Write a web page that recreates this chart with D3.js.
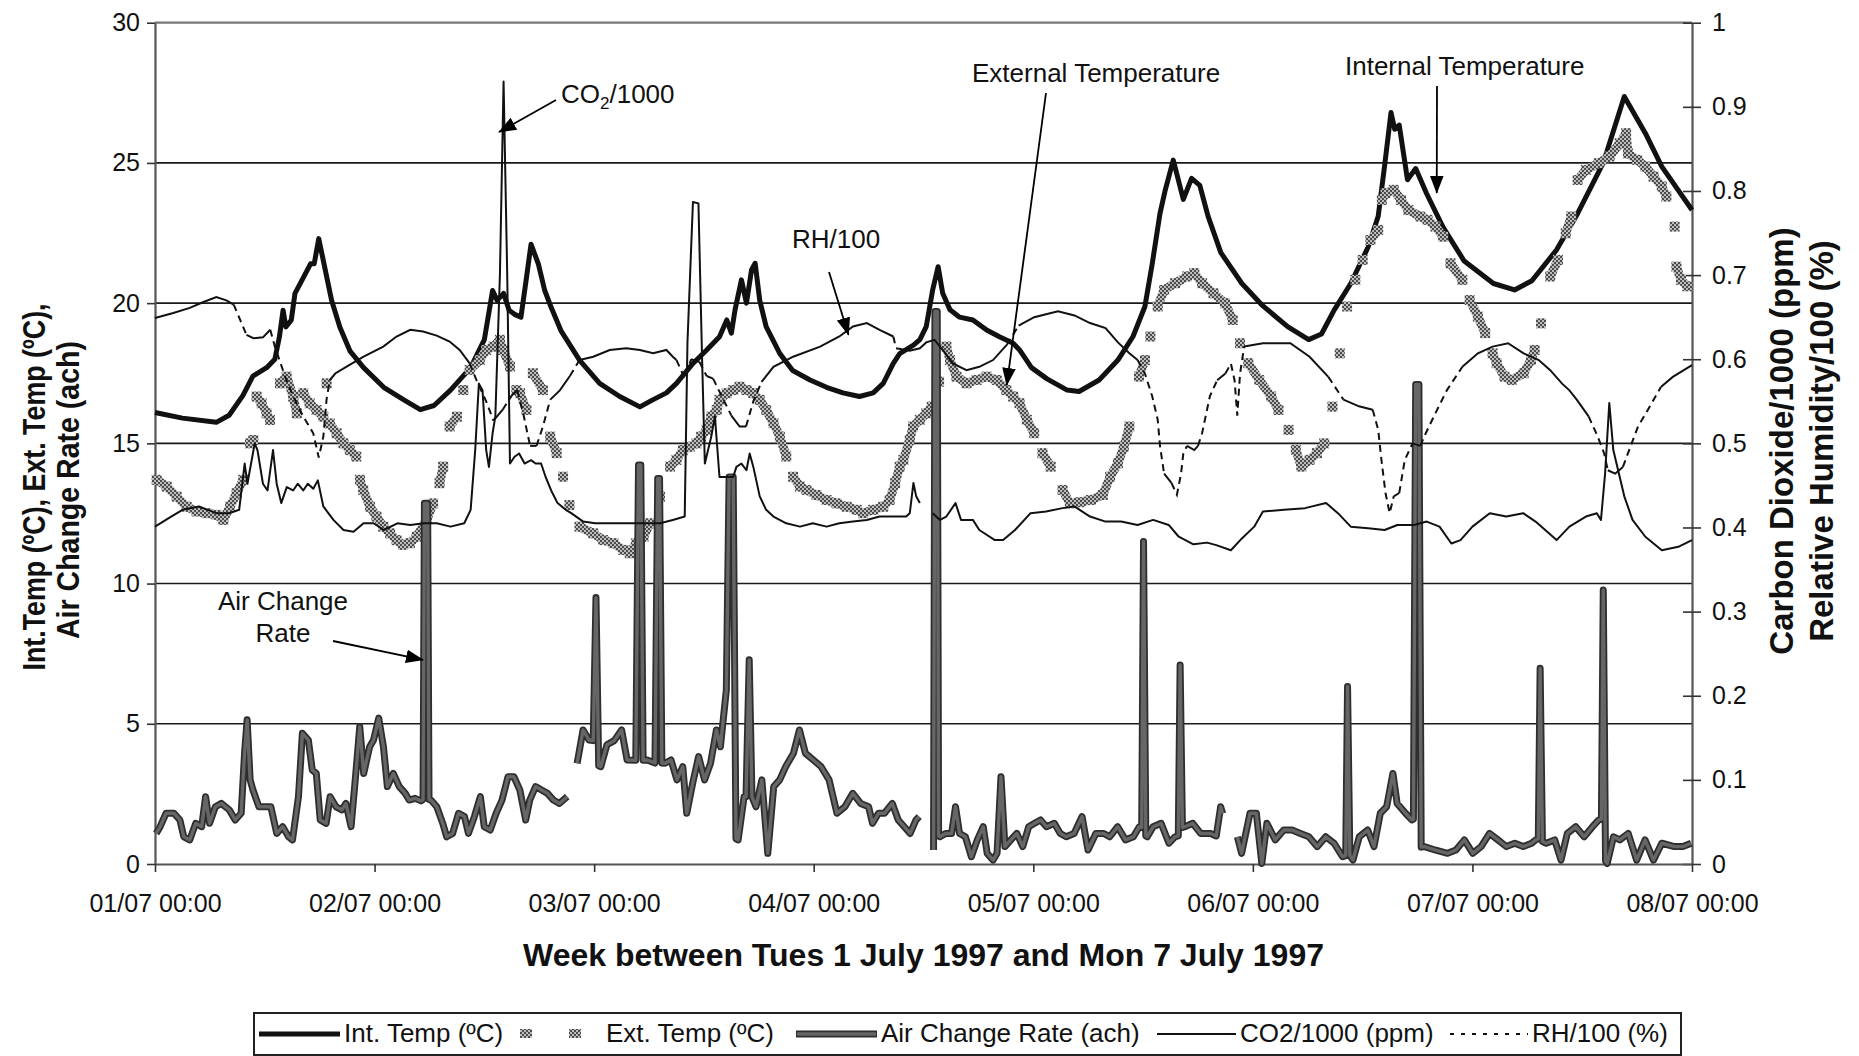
<!DOCTYPE html>
<html>
<head>
<meta charset="utf-8">
<script src="https://cdn.jsdelivr.net/npm/d3@7"></script>
<style>
  body { margin: 0; background: #fff; }
  svg { display: block; }
  text { font-family: "Liberation Sans", Arial, Helvetica, sans-serif; }
</style>
</head>
<body>
<svg id="chart" width="1859" height="1056"></svg>
<script>
// ---------------- DATA (hours since 01/07 00:00, values) ----------------
const dayLabels = ["01/07 00:00","02/07 00:00","03/07 00:00","04/07 00:00","05/07 00:00","06/07 00:00","07/07 00:00","08/07 00:00"];
const dayHours = [0,24,48,72,96,120,144,168];
const leftTicks = [0,5,10,15,20,25,30];
const rightTicks = [0,0.1,0.2,0.3,0.4,0.5,0.6,0.7,0.8,0.9,1];

// Internal temperature (ºC) – left axis
const intTemp = [
[0,16.1],[3,15.9],[6.7,15.75],[8.1,16.0],[9.6,16.7],[10.7,17.4],[12.2,17.7],[13.1,18.0],[13.6,18.8],[14.0,19.75],[14.3,19.15],[14.9,19.4],[15.3,20.35],[16.2,20.9],[17.0,21.4],[17.4,21.4],[17.9,22.3],[18.6,21.2],[19.3,20.1],[20.2,19.15],[21.3,18.3],[22.8,17.7],[25.0,17.0],[27.2,16.55],[29.0,16.2],[30.5,16.35],[32.3,16.9],[34.5,17.7],[36.0,18.7],[36.9,20.45],[37.4,20.1],[38.1,20.35],[38.7,19.75],[39.3,19.6],[40.0,19.5],[40.6,20.9],[41.1,22.1],[41.9,21.4],[42.6,20.45],[43.3,19.85],[44.4,19.0],[46.4,17.97],[48.6,17.14],[50.8,16.67],[53.0,16.3],[54.4,16.55],[55.9,16.8],[57.0,17.14],[58.8,17.85],[60.3,18.33],[61.7,18.8],[62.5,19.4],[63.0,18.93],[63.4,19.76],[64.1,20.83],[64.65,20.0],[65.2,21.18],[65.6,21.42],[66.1,20.1],[66.8,19.16],[68.3,18.2],[69.7,17.6],[71.6,17.26],[73.4,17.0],[75.2,16.8],[77.0,16.67],[78.5,16.8],[79.6,17.14],[80.7,17.85],[81.4,18.2],[82.9,18.5],[83.6,18.7],[84.3,19.16],[85.0,20.47],[85.6,21.3],[86.1,20.35],[86.9,19.76],[87.95,19.5],[89.4,19.4],[90.9,19.04],[92.3,18.8],[93.8,18.57],[94.5,18.33],[95.8,17.7],[97.5,17.3],[99.7,16.9],[101.0,16.85],[103.2,17.26],[105.25,17.97],[106.9,18.81],[108.2,19.88],[109.0,21.4],[109.85,23.2],[110.4,24.0],[111.3,25.1],[112.4,23.7],[113.3,24.45],[114.2,24.2],[115.1,23.1],[116.5,21.8],[118.8,20.7],[121.1,19.9],[123.8,19.16],[126.1,18.7],[127.5,18.9],[128.9,19.76],[130.7,20.7],[132.6,22.0],[133.7,23.1],[134.4,24.9],[135.1,26.8],[135.5,26.2],[136.0,26.35],[136.9,24.4],[137.8,24.8],[139.0,23.9],[140.8,22.7],[143.1,21.5],[146.3,20.7],[148.6,20.47],[150.5,20.8],[153.2,21.9],[155.5,23.2],[158.3,25.0],[160.6,27.37],[162.9,26.06],[164.7,24.87],[168.0,23.32]
];

// External temperature (ºC) – left axis (markers)
const extTemp = [
[0.18,13.7],[1.28,13.46],[2.37,13.1],[3.46,12.74],[4.55,12.57],[5.65,12.51],[6.74,12.45],[7.47,12.27],[8.2,12.74],[8.92,13.22],[9.65,13.7],[10.38,15.0],[10.75,15.12],[11.1,16.67],[11.65,16.43],[12.2,16.07],[12.57,15.83],[13.66,17.14],[14.39,17.38],[15.1,16.67],[15.5,16.07],[16.2,16.79],[16.9,16.43],[17.66,16.19],[18.4,15.95],[18.76,17.14],[19.1,15.71],[19.85,15.36],[20.6,15.0],[21.3,14.76],[22.0,14.53],[22.4,13.7],[22.76,13.34],[23.5,12.74],[24.2,12.39],[24.95,12.03],[25.7,11.79],[26.4,11.55],[27.1,11.38],[27.86,11.44],[28.6,11.67],[29.7,12.27],[30.4,12.86],[31.1,13.58],[31.5,14.17],[32.2,15.6],[33.0,15.95],[33.7,16.9],[34.4,17.62],[35.5,17.97],[36.2,18.33],[37.0,18.45],[37.7,18.69],[38.05,18.33],[38.8,17.74],[39.5,16.9],[39.9,16.79],[40.6,16.19],[41.3,17.5],[42.4,16.9],[43.2,15.24],[43.9,14.65],[44.6,13.81],[45.3,12.8],[46.4,12.03],[47.9,11.79],[49.0,11.55],[50.1,11.44],[51.2,11.2],[51.9,11.08],[52.6,11.44],[53.4,11.67],[54.1,12.15],[55.2,13.1],[56.3,14.17],[57.0,14.41],[57.7,14.76],[58.45,14.88],[59.2,15.0],[59.7,15.24],[60.3,15.48],[60.8,15.95],[61.4,16.19],[61.7,16.55],[62.5,16.79],[63.2,16.9],[63.9,17.02],[64.65,16.9],[65.4,16.79],[66.1,16.55],[66.8,16.19],[67.6,15.72],[68.3,15.24],[69.0,14.53],[69.75,13.81],[70.5,13.46],[71.2,13.34],[72.3,13.16],[73.4,12.98],[74.5,12.86],[75.6,12.74],[76.7,12.63],[77.4,12.51],[78.5,12.63],[79.6,12.74],[80.3,12.98],[80.9,13.58],[81.4,14.17],[81.8,14.41],[82.5,15.12],[82.85,15.6],[83.6,15.84],[84.3,16.07],[84.9,16.31],[85.7,17.2],[86.5,18.45],[86.9,17.97],[87.6,17.38],[88.7,17.14],[89.8,17.26],[90.9,17.38],[92.0,17.26],[93.05,16.9],[93.8,16.67],[94.5,16.43],[95.3,15.84],[96.1,15.36],[97.0,14.65],[97.9,14.17],[99.2,13.34],[100.0,12.86],[101.07,12.9],[102.3,12.98],[103.6,13.16],[104.4,13.81],[105.25,14.29],[105.9,14.88],[106.5,15.6],[107.55,17.38],[108.2,17.97],[108.8,18.81],[109.6,19.88],[110.3,20.47],[111.5,20.71],[112.8,20.95],[113.6,21.07],[114.45,20.71],[115.7,20.35],[116.96,20.0],[117.8,19.4],[118.6,18.57],[119.5,17.86],[120.7,17.26],[122.0,16.67],[122.8,16.19],[123.9,15.48],[124.7,14.77],[125.3,14.17],[126.2,14.41],[127.0,14.65],[127.8,15.0],[128.7,16.31],[129.5,18.21],[130.3,19.88],[131.2,20.83],[132.0,21.54],[132.85,22.25],[133.7,22.61],[134.1,23.68],[134.5,23.92],[135.4,24.04],[136.2,23.68],[137.0,23.32],[138.3,23.09],[139.1,22.97],[139.96,22.73],[140.8,22.37],[141.6,21.42],[142.9,20.83],[143.7,20.11],[144.6,19.52],[145.4,18.93],[146.2,18.21],[146.65,17.86],[147.5,17.38],[148.3,17.26],[149.6,17.5],[150.4,17.97],[150.8,18.33],[151.5,19.28],[152.5,20.95],[153.35,21.54],[154.2,22.49],[154.8,23.09],[155.5,24.39],[156.4,24.75],[157.8,24.99],[159.0,25.23],[160.1,25.7],[160.8,26.06],[161.0,25.34],[162.0,25.11],[162.9,24.87],[163.8,24.51],[164.7,24.16],[165.2,23.8],[166.1,22.73],[166.3,21.3],[166.8,20.83],[167.5,20.6]
];

// Air change rate (ach) – left axis (null = missing data)
const airChange = [
[0.13,1.09],[0.56,1.33],[1.21,1.81],[2.07,1.81],[2.72,1.57],[3.15,0.97],[3.8,0.86],[4.45,1.45],[5.1,1.33],[5.53,2.4],[5.96,1.45],[6.6,2.04],[7.26,2.16],[8.12,1.93],[8.77,1.57],[9.42,1.81],[9.8,4.0],[10.07,5.14],[10.4,3.0],[10.71,2.64],[11.36,2.04],[12.01,2.04],[12.66,2.04],[13.31,1.09],[13.95,1.33],[14.6,0.97],[15.03,0.86],[15.68,2.4],[16.11,4.66],[16.76,4.42],[17.19,3.35],[17.63,3.23],[18.06,1.57],[18.71,1.45],[19.14,2.4],[19.79,2.04],[20.43,1.93],[20.87,2.16],[21.43,1.33],[21.95,3.23],[22.38,4.9],[22.81,3.23],[23.46,4.18],[23.89,4.42],[24.45,5.2],[24.97,4.18],[25.4,2.76],[26.05,3.23],[26.7,2.76],[27.35,2.52],[27.78,2.28],[28.43,2.34],[29.08,2.25],[29.3,2.3],[29.45,12.86],[29.8,12.86],[29.95,2.3],[30.16,2.28],[30.8,2.04],[31.45,1.45],[31.88,0.97],[32.53,1.09],[33.18,1.81],[33.83,1.69],[34.26,1.09],[34.91,1.69],[35.56,2.4],[35.99,1.33],[36.64,1.21],[37.29,1.81],[37.93,2.28],[38.58,3.11],[39.23,3.11],[39.88,2.64],[40.52,1.57],[40.96,2.28],[41.6,2.76],[42.25,2.64],[42.9,2.52],[43.55,2.28],[44.2,2.16],[45.06,2.4],[45.6,null],[46.14,3.59],[46.79,4.78],[47.44,4.42],[47.9,4.4],[48.2,9.5],[48.5,3.5],[48.73,3.47],[49.4,4.25],[50.2,4.4],[51.0,4.78],[51.6,3.71],[52.55,3.7],[52.85,14.23],[53.1,14.23],[53.35,3.7],[53.8,3.71],[54.65,3.6],[54.95,13.75],[55.15,13.75],[55.4,3.6],[55.75,3.59],[56.4,3.71],[57.05,3.0],[57.69,3.47],[58.12,1.81],[58.77,2.88],[59.42,3.83],[60.07,3.0],[60.72,3.59],[61.37,4.78],[61.8,4.18],[62.45,6.2],[62.75,13.8],[63.2,13.8],[63.5,0.9],[63.74,0.86],[64.39,2.4],[64.6,2.4],[64.95,7.28],[65.25,2.4],[65.69,2.04],[66.33,3.0],[66.98,0.38],[67.63,2.76],[68.28,3.0],[68.93,3.47],[69.79,3.95],[70.44,4.78],[71.09,3.95],[71.95,3.71],[72.81,3.47],[73.68,3.0],[74.54,1.81],[75.41,2.04],[76.27,2.52],[77.13,2.16],[78.0,2.04],[78.43,1.45],[79.08,1.81],[79.73,1.81],[80.59,2.16],[81.24,1.57],[81.89,1.33],[82.54,1.09],[83.18,1.57],[83.53,1.69],[84.3,null],[85.1,0.5],[85.25,19.7],[85.5,19.7],[85.65,1.0],[85.8,0.97],[86.42,1.09],[87.07,1.09],[87.5,2.04],[87.94,1.09],[88.58,0.97],[89.23,0.26],[89.88,0.86],[90.53,1.33],[90.96,0.38],[91.61,0.14],[92.04,0.38],[92.47,3.11],[92.9,0.62],[93.55,0.86],[94.2,1.09],[94.85,0.62],[95.5,1.33],[96.14,1.45],[96.79,1.57],[97.44,1.33],[98.3,1.45],[98.95,1.09],[99.6,0.97],[100.46,1.09],[101.33,1.69],[101.98,0.5],[102.84,1.09],[103.7,1.09],[104.35,0.97],[105.22,1.33],[106.08,0.86],[106.94,0.97],[107.59,1.33],[107.85,1.3],[108.05,11.5],[108.3,1.0],[108.46,0.97],[109.1,1.33],[109.97,1.45],[110.83,0.74],[111.48,0.97],[111.85,1.0],[112.05,7.1],[112.3,1.3],[112.56,1.33],[113.43,1.45],[114.29,1.09],[115.37,1.09],[116.0,1.0],[116.48,2.04],[116.7,1.8],[117.5,null],[118.31,0.97],[118.77,0.38],[119.69,1.81],[120.38,1.81],[120.98,0.02],[121.53,1.45],[122.45,0.86],[123.37,1.21],[124.28,1.21],[125.2,1.09],[126.12,0.97],[127.04,0.62],[127.96,0.97],[128.88,0.74],[129.8,0.26],[130.15,0.3],[130.35,6.33],[130.6,0.3],[130.94,0.14],[131.63,0.97],[132.55,1.21],[133.24,0.62],[133.93,1.81],[134.62,2.04],[135.31,3.23],[135.77,2.16],[136.69,1.81],[137.38,1.57],[137.55,1.6],[137.8,17.1],[138.15,17.1],[138.4,0.6],[138.75,0.62],[139.9,0.5],[141.28,0.38],[142.2,0.5],[143.12,0.86],[144.04,0.38],[144.95,0.62],[145.87,1.09],[146.79,0.86],[147.71,0.62],[148.63,0.74],[149.55,0.62],[150.47,0.74],[150.92,0.86],[151.2,0.9],[151.4,6.98],[151.65,0.8],[152.07,0.74],[152.99,0.86],[153.68,0.14],[154.37,1.09],[155.29,1.33],[156.21,0.97],[157.13,1.33],[157.81,1.57],[158.1,1.6],[158.3,9.77],[158.55,0.1],[158.73,0.02],[159.42,0.97],[160.11,0.86],[161.03,1.09],[161.95,0.14],[162.87,0.86],[163.79,0.14],[164.7,0.74],[166.08,0.62],[167.0,0.62],[167.92,0.74]
];

// CO2/1000 (ppm) – right axis
const co2 = [
[0,.401],[1.5,.411],[3.0,.421],[4.8,.425],[6.7,.417],[8.1,.417],[9.2,.421],[9.8,.476],[10.1,.452],[10.9,.500],[11.2,.492],[11.8,.452],[12.3,.444],[12.9,.492],[13.3,.452],[13.8,.429],[14.4,.448],[15.1,.444],[15.6,.452],[16.2,.444],[16.7,.452],[17.3,.446],[17.8,.456],[18.4,.425],[19.5,.409],[20.6,.397],[21.7,.395],[22.8,.405],[23.9,.405],[25.0,.397],[26.5,.405],[27.9,.403],[29.4,.405],[30.8,.405],[32.3,.401],[33.8,.405],[34.5,.421],[35.0,.492],[35.4,.571],[35.8,.563],[36.2,.492],[36.5,.472],[36.9,.512],[37.2,.532],[37.7,.70],[38.1,.93],[38.5,.70],[38.8,.476],[39.3,.484],[39.8,.488],[40.4,.476],[41.1,.480],[41.6,.476],[42.2,.476],[42.7,.460],[43.3,.444],[44.0,.429],[44.9,.421],[45.5,.417],[46.8,.407],[48.1,.405],[49.0,.405],[51.5,.405],[53.0,.405],[55.2,.405],[56.6,.409],[57.9,.413],[58.2,.62],[58.8,.787],[59.4,.785],[59.8,.60],[60.1,.476],[60.8,.508],[61.2,.532],[61.7,.460],[63.2,.460],[63.55,.472],[64.1,.476],[64.65,.468],[65.0,.488],[65.4,.472],[66.1,.437],[66.8,.421],[67.6,.413],[69.0,.405],[70.5,.401],[71.9,.405],[73.4,.401],[74.8,.405],[76.3,.407],[77.8,.409],[79.2,.413],[80.7,.413],[82.1,.413],[82.5,.417],[82.9,.453],[83.2,.437],[83.6,.429],[84.3,null],[85.0,.417],[85.8,.409],[86.5,.413],[87.5,.429],[88.1,.409],[89.4,.409],[90.1,.397],[91.8,.385],[92.7,.385],[94.0,.397],[95.7,.417],[97.4,.419],[99.2,.423],[100.5,.425],[102.2,.413],[103.9,.407],[105.6,.407],[107.4,.403],[109.1,.409],[110.8,.403],[111.9,.389],[113.5,.380],[115.0,.382],[116.0,.379],[117.6,.373],[118.8,.387],[120.15,.401],[121.1,.419],[123.4,.421],[125.7,.423],[128.0,.429],[129.3,.417],[130.7,.401],[132.6,.399],[134.4,.397],[135.8,.403],[137.6,.403],[139.0,.407],[140.4,.401],[141.7,.381],[142.7,.385],[144.0,.401],[145.9,.417],[147.7,.413],[149.55,.417],[150.9,.407],[153.2,.385],[154.6,.401],[156.4,.413],[157.6,.417],[158.05,.409],[158.5,.464],[158.96,.548],[159.4,.492],[160.6,.437],[161.5,.409],[162.9,.389],[164.7,.373],[166.5,.377],[168.0,.385]
];

// RH/100 (%) – right axis
const rh = [
[0,.649],[2.0,.655],[3.8,.661],[5.3,.668],[6.7,.674],[7.8,.670],[8.6,.665],[9.3,.647],[10.0,.629],[10.75,.625],[11.8,.626],[12.6,.635],[13.1,.615],[14.2,.580],[15.1,.556],[16.2,.532],[17.3,.512],[17.9,.483],[18.4,.508],[18.75,.552],[19.1,.575],[19.7,.583],[20.9,.591],[22.8,.603],[24.95,.615],[26.4,.627],[27.9,.635],[29.3,.633],[30.8,.628],[32.2,.621],[33.3,.611],[34.4,.595],[35.3,.571],[36.2,.550],[37.0,.527],[38.0,.540],[39.0,.557],[39.6,.563],[40.3,.533],[41.0,.497],[41.7,.497],[42.4,.520],[43.2,.552],[44.25,.563],[45.35,.580],[46.4,.599],[47.9,.603],[49.7,.611],[51.5,.613],[53.0,.611],[54.45,.607],[55.9,.611],[56.6,.603],[57.0,.599],[57.9,.577],[58.6,.600],[59.5,.597],[60.3,.580],[61.0,.577],[61.9,.557],[63.0,.533],[63.9,.520],[64.6,.520],[65.4,.550],[66.3,.573],[67.6,.591],[69.75,.603],[72.7,.615],[74.8,.627],[76.3,.639],[77.8,.643],[79.2,.635],[80.7,.627],[81.0,.613],[82.5,.610],[83.6,.613],[84.3,.620],[85.2,.623],[86.1,.611],[87.2,.595],[88.7,.587],[90.1,.591],[91.6,.599],[93.1,.617],[94.4,.640],[96.1,.650],[98.7,.657],[100.5,.652],[102.2,.643],[103.9,.637],[105.25,.620],[106.5,.607],[107.4,.599],[108.2,.583],[109.0,.556],[109.6,.528],[109.85,.497],[110.3,.464],[111.1,.453],[111.7,.439],[112.15,.464],[112.4,.488],[112.8,.497],[113.6,.492],[114.0,.497],[114.45,.512],[115.3,.556],[116.1,.575],[117.0,.583],[117.6,.595],[118.0,.575],[118.3,.533],[118.6,.583],[119.05,.615],[121.1,.619],[124.1,.619],[126.2,.603],[128.25,.579],[129.9,.552],[131.6,.544],[133.1,.540],[133.7,.516],[134.1,.476],[134.5,.441],[134.95,.417],[135.4,.437],[136.0,.441],[136.6,.480],[137.45,.500],[138.3,.497],[138.9,.512],[139.96,.536],[141.2,.563],[142.9,.591],[144.6,.607],[146.2,.615],[147.9,.619],[149.6,.607],[151.25,.599],[152.5,.587],[153.8,.571],[154.6,.563],[155.4,.552],[156.7,.532],[157.7,.508],[158.4,.488],[158.8,.468],[159.6,.464],[160.45,.472],[161.3,.497],[162.1,.520],[163.4,.544],[164.6,.567],[165.9,.579],[168.0,.593]
];

// ---------------- CHART ----------------
const FONT = '"Liberation Sans", Arial, Helvetica, sans-serif';
const svg = d3.select('#chart');
const PL = 155, PR = 1692, PT = 22.7, PB = 864;
const x = d3.scaleLinear().domain([0, 168]).range([PL, PR]);
const yL = d3.scaleLinear().domain([0, 30]).range([PB, PT]);
const yR = d3.scaleLinear().domain([0, 1]).range([PB, PT]);

svg.append('rect').attr('width', 1859).attr('height', 1056).attr('fill', '#fff');

const defs = svg.append('defs');
const pat = defs.append('pattern').attr('id', 'chk').attr('width', 4).attr('height', 4)
  .attr('patternUnits', 'userSpaceOnUse');
pat.append('rect').attr('width', 4).attr('height', 4).attr('fill', '#bdbdbd');
pat.append('rect').attr('width', 2).attr('height', 2).attr('fill', '#4c4c4c');
pat.append('rect').attr('x', 2).attr('y', 2).attr('width', 2).attr('height', 2).attr('fill', '#4c4c4c');
defs.append('marker').attr('id', 'arrow').attr('viewBox', '0 0 10 10')
  .attr('refX', 9.5).attr('refY', 5).attr('markerWidth', 18).attr('markerHeight', 18)
  .attr('markerUnits', 'userSpaceOnUse').attr('orient', 'auto')
  .append('path').attr('d', 'M0,1.2L10,5L0,8.8z').attr('fill', '#000');

// gridlines
svg.append('g').selectAll('line').data(leftTicks.filter(t => t > 0 && t < 30)).join('line')
  .attr('x1', PL).attr('x2', PR).attr('y1', d => yL(d)).attr('y2', d => yL(d))
  .attr('stroke', '#1a1a1a').attr('stroke-width', 1.6);
// top border
svg.append('line').attr('x1', PL).attr('x2', PR).attr('y1', yL(30)).attr('y2', yL(30))
  .attr('stroke', '#777').attr('stroke-width', 2.2);

// axes
const gL = svg.append('g').attr('transform', `translate(${PL},0)`)
  .call(d3.axisLeft(yL).tickValues(leftTicks).tickSize(8).tickPadding(7).tickSizeOuter(0));
const gR = svg.append('g').attr('transform', `translate(${PR},0)`)
  .call(d3.axisRight(yR).tickValues(rightTicks).tickSize(9).tickPadding(11).tickSizeOuter(0)
    .tickFormat(d => (d === 0 || d === 1) ? String(d) : d.toFixed(1)));
gR.selectAll('.tick line').attr('x1', -9);
const gX = svg.append('g').attr('transform', `translate(0,${PB})`)
  .call(d3.axisBottom(x).tickValues(dayHours).tickSize(8).tickPadding(22).tickSizeOuter(0)
    .tickFormat((d, i) => dayLabels[i]));
[gL, gR, gX].forEach(g => {
  g.attr('font-size', 25).attr('font-family', FONT);
  g.select('.domain').attr('stroke', '#555').attr('stroke-width', 2.2);
  g.selectAll('.tick line').attr('stroke', '#333').attr('stroke-width', 1.6);
  g.selectAll('.tick text').attr('fill', '#111');
});

// ---- series ----
const lineL = d3.line().defined(d => d[1] != null).x(d => x(d[0])).y(d => yL(d[1]));
const lineR = d3.line().defined(d => d[1] != null).x(d => x(d[0])).y(d => yR(d[1]));

// Internal temperature
svg.append('path').datum(intTemp).attr('d', lineL).attr('fill', 'none')
  .attr('stroke', '#111').attr('stroke-width', 5).attr('stroke-linejoin', 'round');

// External temperature: dense markers (joined where neighbouring markers overlap)
const gExt = svg.append('g');
for (let i = 1; i < extTemp.length; i++) {
  const a = extTemp[i - 1], b = extTemp[i];
  const dx = x(b[0]) - x(a[0]), dy = yL(b[1]) - yL(a[1]);
  if (Math.hypot(dx, dy) < 21) {
    gExt.append('line').attr('x1', x(a[0])).attr('y1', yL(a[1])).attr('x2', x(b[0])).attr('y2', yL(b[1]))
      .attr('stroke', 'url(#chk)').attr('stroke-width', 9).attr('stroke-linecap', 'round');
  }
}
gExt.selectAll('rect').data(extTemp).join('rect')
  .attr('x', d => x(d[0]) - 5).attr('y', d => yL(d[1]) - 5).attr('width', 10).attr('height', 10)
  .attr('fill', 'url(#chk)');

// Air change rate
svg.append('path').datum(airChange).attr('d', lineL).attr('fill', 'none')
  .attr('stroke', '#2e2e2e').attr('stroke-width', 7).attr('stroke-linejoin', 'round');
svg.append('path').datum(airChange).attr('d', lineL).attr('fill', 'none')
  .attr('stroke', '#666').attr('stroke-width', 3.4).attr('stroke-linejoin', 'round');

// CO2
svg.append('path').datum(co2).attr('d', lineR).attr('fill', 'none')
  .attr('stroke', '#111').attr('stroke-width', 2).attr('stroke-linejoin', 'round');

// RH: dashed style becomes visible on the steep stretches
const rhGroups = [];
let cur = null;
for (let i = 1; i < rh.length; i++) {
  const a = rh[i - 1], b = rh[i];
  const dx = Math.abs(x(b[0]) - x(a[0])), dy = Math.abs(yR(b[1]) - yR(a[1]));
  const dashed = dy > 1.5 * dx;
  if (!cur || cur.dashed !== dashed) { cur = { dashed, pts: [a] }; rhGroups.push(cur); }
  cur.pts.push(b);
}
svg.append('g').selectAll('path').data(rhGroups).join('path')
  .attr('d', g => lineR(g.pts)).attr('fill', 'none').attr('stroke', '#111').attr('stroke-width', 2)
  .attr('stroke-dasharray', g => g.dashed ? '7,5' : null);

// ---- axis titles ----
const tl = svg.append('g').attr('font-family', FONT).attr('font-weight', 'bold').attr('fill', '#111');
tl.append('text').attr('transform', 'translate(45,487) rotate(-90)').attr('text-anchor', 'middle')
  .attr('font-size', 32).attr('textLength', 367).attr('lengthAdjust', 'spacingAndGlyphs')
  .text('Int.Temp (ºC), Ext. Temp (ºC),');
tl.append('text').attr('transform', 'translate(79,490) rotate(-90)').attr('text-anchor', 'middle')
  .attr('font-size', 32).attr('textLength', 298).attr('lengthAdjust', 'spacingAndGlyphs')
  .text('Air Change Rate (ach)');
tl.append('text').attr('transform', 'translate(1793,441) rotate(-90)').attr('text-anchor', 'middle')
  .attr('font-size', 33).text('Carbon Dioxide/1000 (ppm)');
tl.append('text').attr('transform', 'translate(1833,441) rotate(-90)').attr('text-anchor', 'middle')
  .attr('font-size', 33).text('Relative Humidity/100 (%)');
tl.append('text').attr('x', (PL + PR) / 2).attr('y', 966).attr('text-anchor', 'middle')
  .attr('font-size', 32).text('Week between Tues 1 July 1997 and Mon 7 July 1997');

// ---- annotations ----
const an = svg.append('g').attr('font-family', FONT).attr('font-size', 26).attr('fill', '#111');
const co2Lbl = an.append('text').attr('x', 561).attr('y', 103);
co2Lbl.append('tspan').text('CO');
co2Lbl.append('tspan').attr('font-size', 17).attr('dy', 6).text('2');
co2Lbl.append('tspan').attr('dy', -6).text('/1000');
an.append('text').attr('x', 792).attr('y', 248).text('RH/100');
an.append('text').attr('x', 972).attr('y', 82).text('External Temperature');
an.append('text').attr('x', 1345).attr('y', 75).text('Internal Temperature');
an.append('text').attr('x', 283).attr('y', 610).attr('text-anchor', 'middle').text('Air Change');
an.append('text').attr('x', 283).attr('y', 642).attr('text-anchor', 'middle').text('Rate');

const arrows = [
  { from: [556, 100], to: [x(37.6), yL(26.1)] },
  { from: [829, 272], to: [x(75.8), yL(18.87)] },
  { from: [1046, 93], to: [x(93.1), yL(17.08)] },
  { from: [1437, 86], to: [x(140.1), yL(23.93)] },
  { from: [333, 641], to: [x(29.3), yL(7.28)] }
];
svg.append('g').selectAll('line').data(arrows).join('line')
  .attr('x1', d => d.from[0]).attr('y1', d => d.from[1]).attr('x2', d => d.to[0]).attr('y2', d => d.to[1])
  .attr('stroke', '#000').attr('stroke-width', 1.8).attr('marker-end', 'url(#arrow)');

// ---- legend ----
const lg = svg.append('g').attr('font-family', FONT).attr('font-size', 26).attr('fill', '#111');
lg.append('rect').attr('x', 254).attr('y', 1013).attr('width', 1427).attr('height', 42)
  .attr('fill', '#fff').attr('stroke', '#222').attr('stroke-width', 2);
const LY = 1034;
lg.append('line').attr('x1', 259).attr('x2', 340).attr('y1', LY).attr('y2', LY)
  .attr('stroke', '#111').attr('stroke-width', 5);
lg.append('text').attr('x', 344).attr('y', 1042).text('Int. Temp (ºC)');
[526, 575].forEach(cx => lg.append('rect').attr('x', cx - 6).attr('y', LY - 5).attr('width', 12).attr('height', 9)
  .attr('fill', 'url(#chk)'));
lg.append('text').attr('x', 606).attr('y', 1042).text('Ext. Temp (ºC)');
lg.append('line').attr('x1', 796).attr('x2', 877).attr('y1', LY).attr('y2', LY)
  .attr('stroke', '#2e2e2e').attr('stroke-width', 7);
lg.append('line').attr('x1', 797).attr('x2', 876).attr('y1', LY).attr('y2', LY)
  .attr('stroke', '#666').attr('stroke-width', 3.4);
lg.append('text').attr('x', 881).attr('y', 1042).text('Air Change Rate (ach)');
lg.append('line').attr('x1', 1157).attr('x2', 1236).attr('y1', LY).attr('y2', LY)
  .attr('stroke', '#111').attr('stroke-width', 2);
lg.append('text').attr('x', 1240).attr('y', 1042).text('CO2/1000 (ppm)');
lg.append('line').attr('x1', 1450).attr('x2', 1528).attr('y1', LY).attr('y2', LY)
  .attr('stroke', '#111').attr('stroke-width', 2.2).attr('stroke-dasharray', '4,7');
lg.append('text').attr('x', 1532).attr('y', 1042).text('RH/100 (%)');
</script>
</body>
</html>
